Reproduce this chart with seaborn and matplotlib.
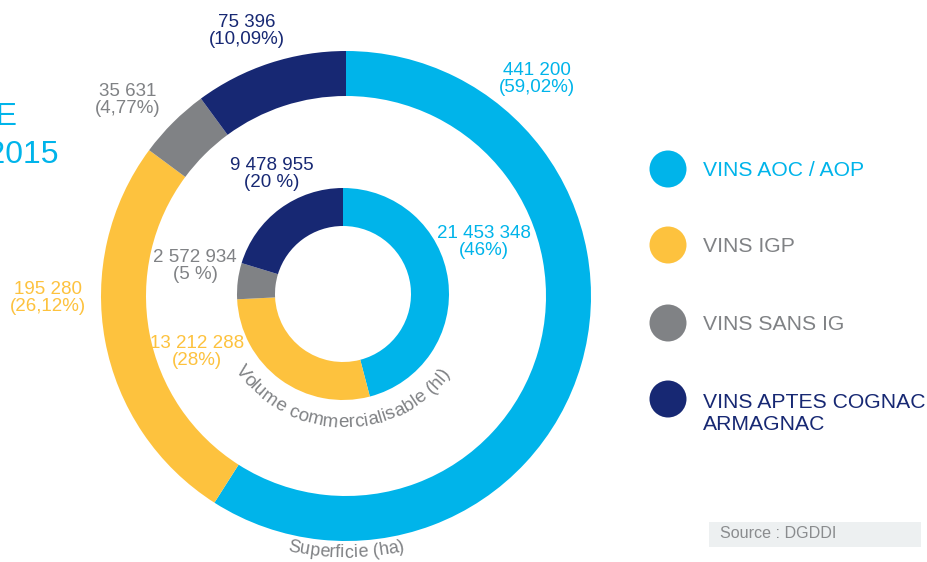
import numpy as np
import matplotlib
matplotlib.use('Agg')
import matplotlib.pyplot as plt
import matplotlib.patches as mpatches
from matplotlib.font_manager import FontProperties
import seaborn as sns

# ── Data ───────────────────────────────────────────────────────────────────────
CATEGORIES   = ['VINS AOC / AOP', 'VINS IGP', 'VINS SANS IG', 'VINS APTES COGNAC\nARMAGNAC']
SURFACE_HA   = [441200, 195280, 35631, 75396]
SURFACE_LBL  = ['441 200\n(59,02%)', '195 280\n(26,12%)', '35 631\n(4,77%)', '75 396\n(10,09%)']
VOLUME_HL    = [21453348, 13212288, 2572934, 9478955]
VOLUME_LBL   = ['21 453 348\n(46%)', '13 212 288\n(28%)', '2 572 934\n(5 %)', '9 478 955\n(20 %)']

# ── Style ──────────────────────────────────────────────────────────────────────
sns.set_theme(style='white')
plt.rcParams['font.family'] = ['Liberation Sans', 'DejaVu Sans']
PALETTE   = sns.color_palette(['#00b4ea', '#fdc23e', '#808285', '#172873'])
TXT_COLS  = [PALETTE[0], PALETTE[2], PALETTE[2], PALETTE[3]]
GREY_TXT  = '#808285'

W, H = 928, 562
def Y(py):
    return H - py

fig, ax = plt.subplots(figsize=(W / 100, H / 100), dpi=100)
ax.set_position([0, 0, 1, 1])

# outer ring: surface, inner ring: volume
ax.pie(SURFACE_HA, colors=PALETTE, startangle=90, counterclock=False,
       center=(346, Y(296)), radius=245,
       wedgeprops={'width': 45, 'linewidth': 0})
ax.pie(VOLUME_HL, colors=PALETTE, startangle=90, counterclock=False,
       center=(343, Y(294)), radius=106,
       wedgeprops={'width': 38, 'linewidth': 0})
ax.set_xlim(0, W)
ax.set_ylim(0, H)
ax.set_aspect('auto')
ax.axis('off')

# value labels
outer_pos = [(537, 79), (48, 298), (128, 100), (247, 31)]
inner_pos = [(484, 242), (197, 352), (195, 266), (272, 174)]
for lbl, (x, y), c in zip(SURFACE_LBL, outer_pos, PALETTE):
    ax.text(x, Y(y), lbl, ha='center', va='center', fontsize=13.5, color=c, linespacing=1.0)
for lbl, (x, y), c in zip(VOLUME_LBL, inner_pos, PALETTE):
    ax.text(x, Y(y), lbl, ha='center', va='center', fontsize=13.5, color=c, linespacing=1.0)

# curved captions
renderer = fig.canvas.get_renderer()
def arc_text(s, cx, cy, r, mid_deg, size):
    fp = FontProperties(family=['Liberation Sans'], size=size)
    def width(t):
        if not t:
            return 0.0
        return renderer.get_text_width_height_descent(t, fp, ismath=False)[0]
    total = width(s)
    for i, ch in enumerate(s):
        pos = (width(s[:i]) + width(s[:i + 1])) / 2 - total / 2
        ang = mid_deg + np.degrees(pos / r)
        a = np.radians(ang)
        ax.text(cx + r * np.cos(a), cy + r * np.sin(a), ch, fontproperties=fp,
                color=GREY_TXT, rotation=ang + 90, rotation_mode='anchor',
                ha='center', va='center')

arc_text('Volume commercialisable (hl)', 344, Y(295), 128, -91, 13.5)
arc_text('Superficie (ha)', 346, Y(296), 257, -90, 13)

# legend
circ_y = [169, 245, 323, 399]
text_y = [171, 247, 324, 414]
for cy, ty, c, lbl, tc in zip(circ_y, text_y, PALETTE, CATEGORIES, TXT_COLS):
    ax.add_patch(mpatches.Circle((668, Y(cy)), 18.5, color=c, lw=0))
    ax.text(703, Y(ty), lbl, ha='left', va='center', fontsize=15.2, color=tc,
            linespacing=1.2)

# cut-off title on the left
ax.text(18, Y(117), 'VITICOLE', ha='right', va='center', fontsize=23, color=PALETTE[0])
ax.text(58, Y(155), 'EN 2015', ha='right', va='center', fontsize=23, color=PALETTE[0])

# source box
ax.add_patch(mpatches.Rectangle((709, Y(547)), 212, 25, color='#edf0f1', lw=0))
ax.text(720, Y(534), 'Source : DGDDI', ha='left', va='center', fontsize=11.6, color='#8a8c8e')

fig.savefig('out.png', dpi=100, facecolor='white')
